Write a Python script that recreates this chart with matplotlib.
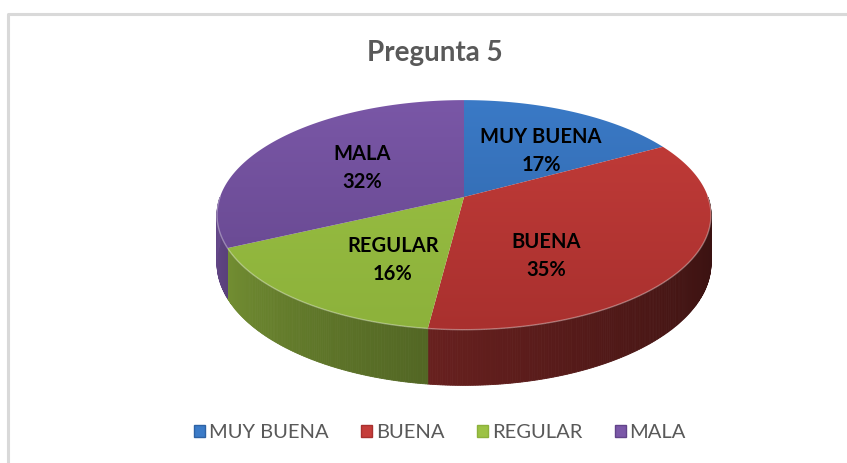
import numpy as np
import matplotlib.pyplot as plt
from matplotlib.patches import Polygon, Patch
from matplotlib.colors import to_rgb

categories = ["MUY BUENA", "BUENA", "REGULAR", "MALA"]
values = [17, 35, 16, 32]
top_colors = ["#3b7bc8", "#c53d3a", "#9cc244", "#7b58a8"]
bot_colors = ["#2e62a4", "#a8302e", "#8cb13b", "#62448a"]
title = "Pregunta 5"

# geometry of the 3d pie (pixel coords, y down)
cx, cy = 464, 197
rx, ry = 244, 112
persp = 0.156
depth = 47

# label anchor points (layout)
label_pos = [(541, 151), (546, 256), (393, 260), (362, 168)]

plt.rcParams['font.family'] = ['Lato', 'DejaVu Sans']


def proj(theta, r=1.0, z=0.0):
    t = np.radians(theta)
    u = r * np.sin(t)
    v = -r * np.cos(t)
    s = 1.0 / (1.0 - persp * v)
    return cx + rx * u * s, cy + (ry * v + depth * z) * s


def shade(theta):
    f = np.clip((theta - 90) / 180.0, 0, 1)
    return 0.28 + 0.55 * f ** 1.3


fig = plt.figure(figsize=(8.47, 4.63), dpi=100)
ax = fig.add_axes([0, 0, 1, 1])
ax.set_xlim(0, 847)
ax.set_ylim(463, 0)
ax.axis("off")

# chart border
ax.plot([8, 8, 847], [463, 14, 14], color="#d9d9d9", lw=2.2, solid_capstyle="butt")

total = sum(values)
angles = np.cumsum([0] + values) / total * 360.0

# side walls (front half only)
for i in range(len(values)):
    a0, a1 = max(angles[i], 90), min(angles[i + 1], 270)
    if a1 <= a0:
        continue
    base = np.array(to_rgb(top_colors[i]))
    steps = np.linspace(a0, a1, int((a1 - a0) * 2) + 2)
    for t0, t1 in zip(steps[:-1], steps[1:]):
        pts = [proj(t0), proj(t1), proj(t1, z=1), proj(t0, z=1)]
        c = np.clip(base * shade((t0 + t1) / 2), 0, 1)
        ax.add_patch(Polygon(pts, closed=True, facecolor=c, edgecolor=c, lw=0.6))

# top faces with a vertical gradient
ys = np.linspace(0, 1, 256)[:, None]
for i in range(len(values)):
    th = np.linspace(angles[i], angles[i + 1], 200)
    pts = [proj(0, r=0)] + [proj(t) for t in th]
    poly = Polygon(pts, closed=True, facecolor="none", edgecolor="none")
    ax.add_patch(poly)
    c0 = np.array(to_rgb(top_colors[i]))
    c1 = np.array(to_rgb(bot_colors[i]))
    img = c0[None, None, :] * (1 - ys[..., None]) + c1[None, None, :] * ys[..., None]
    img = np.repeat(img, 2, axis=1)
    im = ax.imshow(img, extent=(cx - rx - 5, cx + rx + 5, cy + 140, cy - 110),
                   aspect="auto", interpolation="bilinear", zorder=2)
    im.set_clip_path(poly)

# light rim along the front edge of the top face
th = np.linspace(90, 270, 200)
rim = np.array([proj(t) for t in th])
ax.plot(rim[:, 0], rim[:, 1], color="white", alpha=0.35, lw=1.0, zorder=3)

# data labels
for i, (x, y) in enumerate(label_pos):
    pct = round(values[i] / total * 100)
    ax.text(x, y, f"{categories[i]}\n{pct}%", ha="center", va="center",
            fontsize=14.5, fontweight="bold", color="black", linespacing=1.5, zorder=4)

# title
ax.text(435, 53, title, ha="center", va="center", fontsize=20, fontweight="bold",
        color="#595959")

# legend
handles = [Patch(facecolor=top_colors[i], edgecolor=bot_colors[i], label=categories[i])
           for i in range(len(values))]
fig.legend(handles=handles, loc="center", bbox_to_anchor=(440 / 847, 1 - 433 / 463),
           ncol=4, frameon=False, fontsize=14.5, handlelength=0.55, handleheight=0.55,
           handletextpad=0.2, columnspacing=1.6, labelcolor="#595959")

plt.savefig("out.png", dpi=100)
